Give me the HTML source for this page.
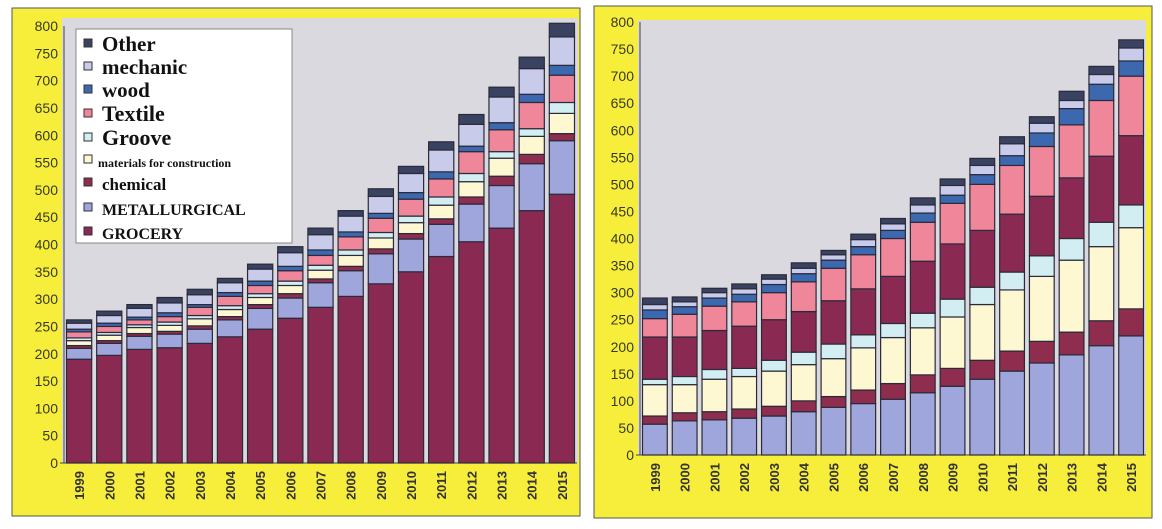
<!DOCTYPE html>
<html><head><meta charset="utf-8"><style>
body{margin:0;background:#fff;width:1162px;height:529px;overflow:hidden}
svg{display:block}
.t{font-family:"Liberation Sans",sans-serif;font-size:14px;fill:#3a3a20}
.yr{font-family:"Liberation Sans",sans-serif;font-size:13px;font-weight:bold;fill:#333}
.lg{font-family:"Liberation Serif",serif;font-weight:bold;fill:#111}
</style></head><body>
<svg id="s" width="1162" height="529">
<rect x="12" y="8" width="568" height="508" fill="#f7ee3c" stroke="#555"/>
<rect x="594" y="6" width="558" height="512" fill="#f7ee3c" stroke="#555"/>
<rect x="62" y="18" width="516" height="445" fill="#d9d9df"/>
<rect x="638" y="20" width="508" height="435" fill="#d9d9df"/>
</svg>
<script>
const years=['1999','2000','2001','2002','2003','2004','2005','2006','2007','2008','2009','2010','2011','2012','2013','2014','2015'];
const yTicks=[0,50,100,150,200,250,300,350,400,450,500,550,600,650,700,750,800];
// left chart series (bottom to top)
const Lgrocery=[190,197,208,211,219,231,245,265,285,305,328,350,378,405,430,462,492];
const Lmetal=[20,22,24,25,26,31,38,37,45,47,55,60,59,69,78,86,98];
const Lchem=[5,5,5,5,6,6,7,8,7,8,9,10,10,13,17,17,13];
const Lmat=[9,10,11,11,13,13,13,15,16,20,20,20,25,28,33,33,37];
const Lgroove=[5,5,5,6,6,7,7,8,9,10,10,12,15,15,12,14,20];
const Ltextile=[11,11,9,10,15,17,15,19,18,24,26,31,33,40,40,48,50];
const Lwood=[5,6,5,7,5,7,8,8,10,9,9,12,13,10,13,15,18];
const Lmech=[11,14,16,18,18,18,22,25,28,29,31,35,40,40,47,47,52];
const Lother=[6,8,7,10,10,8,9,11,12,10,14,13,15,18,18,21,25];
// right chart series (bottom to top)
const Rmetal=[57,63,65,68,72,80,88,95,103,115,127,140,155,170,185,202,220];
const Rchem=[15,15,15,17,18,20,20,25,29,33,33,35,37,40,42,46,50];
const Rmat=[58,52,60,60,65,67,70,78,85,87,95,103,113,120,133,137,150];
const Rgroove=[10,15,18,15,20,23,27,24,26,27,33,32,33,38,40,45,42];
const Rgrocery=[78,73,72,78,75,75,80,85,87,96,102,105,107,110,112,122,128];
const Rtextile=[34,42,45,45,50,55,60,63,70,72,75,85,90,92,98,103,110];
const Rwood=[16,14,15,14,15,15,15,15,15,17,15,18,18,25,30,30,28];
const Rmech=[10,9,10,10,10,10,10,13,12,15,18,17,22,18,15,18,24];
const Rother=[12,9,8,9,8,10,8,10,10,13,12,13,13,12,17,15,15];

const C={gro:'#8a2a52',met:'#9ea6dc',chem:'#8e2d4e',mat:'#fdf8d2',grv:'#d2eef2',tex:'#f0869a',wood:'#3c68b0',mech:'#c9cbea',oth:'#3a4262'};
const NS='http://www.w3.org/2000/svg',svg=document.getElementById('s');
function mk(t,a){const e=document.createElementNS(NS,t);for(const k in a)e.setAttribute(k,a[k]);svg.appendChild(e);return e;}

function chart(pref,x0,x1,yb,yt,series){
  const band=(x1-x0)/years.length,bw=band-5;
  const ys=v=>yb-(v/800)*(yb-yt);
  const xs=i=>x0+band*i+band/2;
  yTicks.forEach(v=>{
    const t=mk('text',{x:x0-6,y:ys(v)+5,'text-anchor':'end',class:'t'});t.textContent=v;
    
    
  });
  const ax=mk('line',{x1:x0,y1:yt,x2:x0,y2:yb,stroke:'#444'});
  
  
  const bx=mk('line',{x1:x0-4,y1:yb,x2:x1,y2:yb,stroke:'#444'});
  
  
  years.forEach((y,i)=>{
    let acc=0;
    series.forEach(([name,arr,col])=>{
      const v=arr[i];
      const r=mk('rect',{x:xs(i)-bw/2,y:ys(acc+v),width:bw,height:ys(acc)-ys(acc+v),fill:col,stroke:'#2a2a3a','stroke-width':1.2});
      
      
      acc+=v;
    });
    const t=mk('text',{x:0,y:0,class:'yr','text-anchor':'end',transform:`translate(${xs(i)+5},${yb+8}) rotate(-90)`});t.textContent=y;
    
    
  });
}
chart('left',64,577,463,26,[['grocery',Lgrocery,C.gro],['metallurgical',Lmetal,C.met],['chemical',Lchem,C.chem],['materials',Lmat,C.mat],['groove',Lgroove,C.grv],['textile',Ltextile,C.tex],['wood',Lwood,C.wood],['mechanic',Lmech,C.mech],['other',Lother,C.oth]]);
chart('right',640,1146,455,22,[['metallurgical',Rmetal,C.met],['chemical',Rchem,C.chem],['materials',Rmat,C.mat],['groove',Rgroove,C.grv],['grocery',Rgrocery,C.gro],['textile',Rtextile,C.tex],['wood',Rwood,C.wood],['mechanic',Rmech,C.mech],['other',Rother,C.oth]]);

// legend
const lb=mk('rect',{x:76,y:29,width:216,height:214,fill:'#fff',stroke:'#888'});


const leg=[['Other',C.oth,51,21],['mechanic',C.mech,74,21],['wood',C.wood,97,21],['Textile',C.tex,121,22],['Groove',C.grv,145,22],['materials for construction',C.mat,167,12],['chemical',C.chem,190,17],['METALLURGICAL',C.met,215,16],['GROCERY',C.gro,239,16]];
leg.forEach(([n,c,y,fs])=>{
  const r=mk('rect',{x:84,y:y-12,width:8,height:8,fill:c,stroke:'#333'});
  
  
  const t=mk('text',{x:n.length>12&&n!=='METALLURGICAL'?98:102,y:y,class:'lg','font-size':fs});t.textContent=n;
  
  
});
</script>
</body></html>
